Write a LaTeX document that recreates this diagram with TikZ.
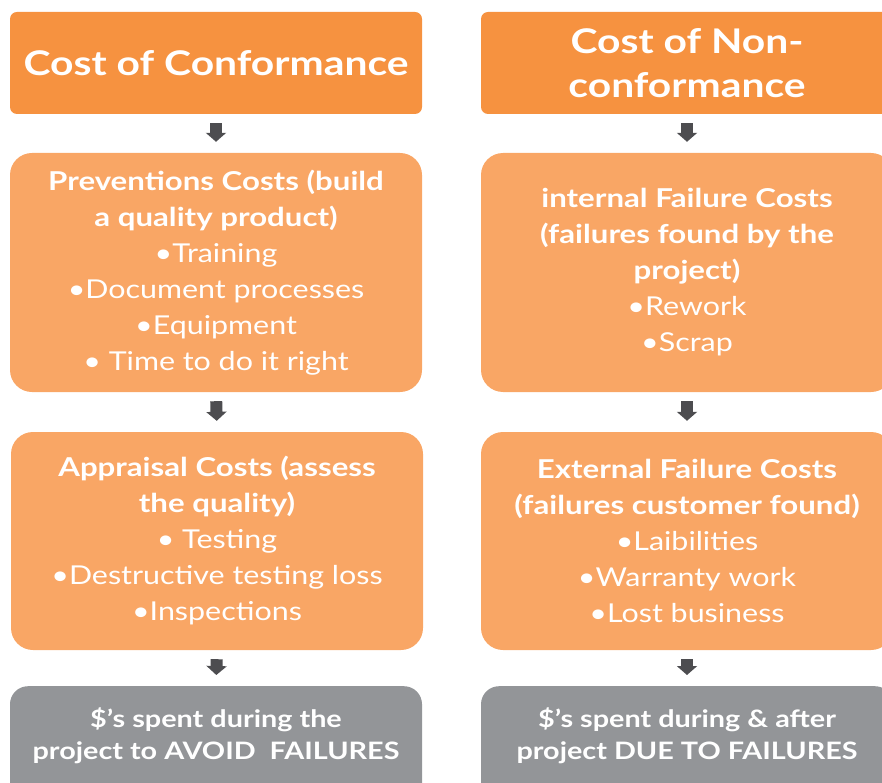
\documentclass[tikz,border=0pt]{standalone}
\usepackage{fontspec}
\setmainfont{Lato}[FakeStretch=1.17, BoldFeatures={FakeStretch=1.2}]
\usetikzlibrary{arrows.meta}
\definecolor{headorange}{HTML}{F69240}
\definecolor{bodyorange}{HTML}{F9A665}
\definecolor{footgray}{HTML}{939598}
\definecolor{arrowgray}{HTML}{4D4D50}
\tikzset{
  headbox/.style={fill=headorange, rounded corners=7pt, minimum width=412pt, minimum height=102pt,
    text=white, align=center, inner sep=0pt, font=\fontsize{34}{44}\selectfont\bfseries},
  bodybox/.style={fill=bodyorange, rounded corners=22pt, minimum width=412pt,
    text=white, align=center, inner sep=0pt, font=\fontsize{26}{36}\selectfont},
  footbox/.style={fill=footgray, rounded corners=18pt, minimum width=412pt, minimum height=120pt,
    inner sep=0pt},
  foottext/.style={text=white, align=center, inner sep=0pt, font=\fontsize{24}{32}\selectfont\bfseries},
  bigarrow/.style={draw=arrowgray, line width=12pt, -{Triangle[width=20pt,length=9pt]},
    shorten <=9pt, shorten >=11pt}
}
\begin{document}
\begin{tikzpicture}[x=1pt,y=-1pt]
\useasboundingbox (0,0) rectangle (882,783);
\clip (0,0) rectangle (882,783);
% left column
\node[headbox] (lh) at (216,63) {Cost of Conformance};
\node[bodybox, minimum height=239pt] (lp) at (216,272.5) {\textbf{Preventions Costs (build}\\\textbf{a quality product)}\\•Training\\•Document processes\\•Equipment\\• Time to do it right};
\node[bodybox, minimum height=218pt] (la) at (217,541) {\textbf{Appraisal Costs (assess}\\\textbf{the quality)}\\• Testing\\•Destructive testing loss\\•Inspections};
\node[footbox, anchor=north] (lf) at (216,686) {};
\node[foottext] (lft) at (216,736) {\$’s spent during the\\project to AVOID\ \ FAILURES};
% right column
\node[headbox] (rh) at (687,63) {Cost of Non-\\conformance};
\node[bodybox, minimum height=239pt] (ri) at (687,272.5) {\textbf{internal Failure Costs}\\\textbf{(failures found by the}\\\textbf{project)}\\•Rework\\•Scrap};
\node[bodybox, minimum height=218pt] (re) at (687,541) {\textbf{External Failure Costs}\\\textbf{(failures customer found)}\\•Laibilities\\•Warranty work\\•Lost business};
\node[footbox, anchor=north] (rf) at (687,686) {};
\node[foottext] (rft) at (687,736) {\$’s spent during \& after\\project DUE TO FAILURES};
% arrows
\draw[bigarrow] (lh.south) -- (lp.north);
\draw[bigarrow] (lp.south) -- (la.north);
\draw[bigarrow] (la.south) -- (lf.north);
\draw[bigarrow] (rh.south) -- (ri.north);
\draw[bigarrow] (ri.south) -- (re.north);
\draw[bigarrow] (re.south) -- (rf.north);
\end{tikzpicture}
\end{document}
